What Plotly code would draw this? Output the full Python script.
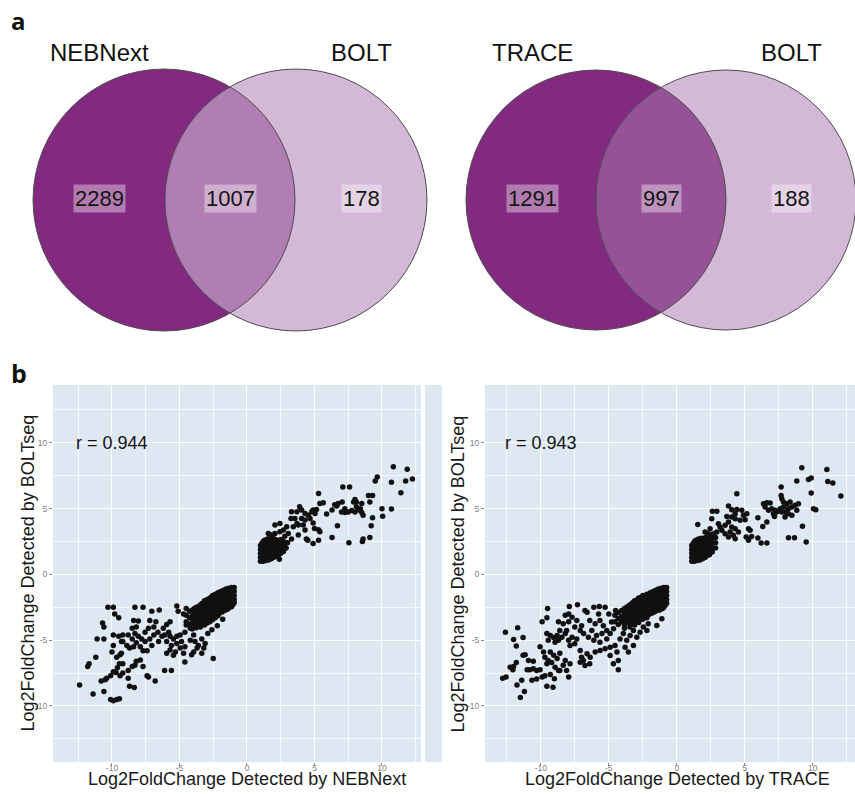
import numpy as np
import plotly.graph_objects as go

# ---------------- data ----------------
venn_left_names = ["NEBNext", "BOLT"]
venn_left_counts = [2289, 1007, 178]
venn_right_names = ["TRACE", "BOLT"]
venn_right_counts = [1291, 997, 188]

r_left = "r = 0.944"
r_right = "r = 0.943"

x_title_left = "Log2FoldChange Detected by NEBNext"
x_title_right = "Log2FoldChange Detected by TRACE"
y_title = "Log2FoldChange Detected by BOLTseq"

tick_vals = [-10, -5, 0, 5, 10]

# NEBNext vs BOLT : down-regulated, sparse part
neb_down_sparse = [
    (-12.4, -8.4), (-11.4, -9.1), (-11.8, -7.0), (-11.7, -6.8), (-11.1, -4.9), (-11.2, -6.3),
    (-10.7, -3.7), (-10.6, -4.0), (-10.6, -4.9), (-10.3, -2.5), (-9.9, -2.5), (-9.8, -3.0),
    (-9.5, -3.3), (-10.6, -8.9), (-10.8, -8.1), (-10.5, -8.0), (-10.4, -7.9), (-10.1, -7.7),
    (-9.9, -7.4), (-10.1, -9.5), (-9.9, -9.6), (-9.65, -9.5), (-9.45, -9.45),
    (-10.0, -5.9), (-9.9, -5.4), (-9.65, -6.3), (-9.4, -6.1), (-9.3, -6.0), (-9.45, -6.8),
    (-9.6, -7.1), (-9.2, -6.8), (-9.7, -7.45), (-9.4, -7.7), (-9.2, -7.5),
    (-9.9, -4.6), (-9.5, -4.7), (-9.2, -4.6), (-9.3, -5.1),
    (-8.8, -7.9), (-8.7, -8.5), (-8.35, -8.6),
    (-8.8, -7.3), (-8.5, -7.0), (-8.3, -6.9), (-8.2, -6.6), (-7.9, -6.5), (-7.7, -7.0),
    (-7.4, -7.7), (-7.3, -7.8), (-6.8, -8.1),
    (-9.2, -5.1), (-8.9, -5.4), (-8.7, -5.6), (-8.4, -5.5), (-8.2, -5.2), (-8.5, -4.9),
    (-8.8, -4.6), (-8.3, -4.5), (-8.05, -4.7), (-7.8, -4.9), (-7.55, -5.1), (-7.9, -5.5),
    (-7.7, -5.8), (-7.4, -5.8), (-7.05, -5.4), (-7.2, -4.9), (-6.9, -4.6),
    (-8.3, -2.5), (-7.7, -2.5), (-8.4, -3.5), (-8.05, -3.55), (-8.2, -4.0), (-8.5, -4.1),
    (-7.05, -2.8), (-6.5, -2.7),
    (-7.2, -3.5), (-6.75, -3.6), (-6.9, -4.0), (-7.3, -4.1), (-7.55, -4.4), (-6.6, -4.4),
    (-6.2, -4.1), (-5.95, -3.8), (-5.7, -3.6), (-5.8, -4.4), (-6.3, -4.7), (-6.55, -5.1),
    (-6.1, -4.6), (-5.7, -4.7), (-5.45, -4.9), (-5.2, -4.7), (-4.95, -4.6), (-5.95, -5.1),
    (-5.6, -5.4), (-5.2, -5.25), (-4.85, -5.1), (-5.7, -5.75), (-5.3, -5.9), (-4.95, -5.6),
    (-4.6, -5.5), (-5.95, -6.0), (-5.45, -6.15), (-4.7, -6.0),
    (-6.1, -7.3), (-5.6, -7.3), (-4.6, -6.65), (-5.2, -2.4), (-5.1, -2.8), (-4.1, -6.1),
    (-4.5, -3.85), (-4.6, -4.4), (-4.2, -4.1), (-3.95, -4.6), (-4.2, -5.0), (-3.85, -5.1),
    (-3.7, -5.6), (-3.95, -5.9), (-3.6, -5.4), (-3.35, -4.9), (-3.2, -5.6), (-3.1, -5.25),
    (-3.35, -6.0), (-2.5, -6.4), (-2.9, -4.5), (-2.6, -4.2), (-2.2, -3.9), (-1.8, -3.4),
]

# NEBNext vs BOLT : down-regulated, dense core  (x, list of y)
neb_down_core = [
    (-0.95, [-1.0, -1.3, -1.6, -1.9, -2.15]),
    (-1.05, [-1.15, -1.45, -1.75, -2.05, -2.3]),
    (-1.15, [-1.0, -1.3, -1.6, -1.9, -2.2, -2.45]),
    (-1.25, [-1.15, -1.45, -1.75, -2.05, -2.35]),
    (-1.35, [-1.05, -1.35, -1.65, -1.95, -2.25, -2.55]),
    (-1.45, [-1.2, -1.5, -1.8, -2.1, -2.4, -2.65]),
    (-1.55, [-1.1, -1.4, -1.7, -2.0, -2.3, -2.6]),
    (-1.65, [-1.25, -1.55, -1.85, -2.15, -2.45, -2.75]),
    (-1.75, [-1.2, -1.5, -1.8, -2.1, -2.4, -2.7]),
    (-1.85, [-1.35, -1.65, -1.95, -2.25, -2.55, -2.85]),
    (-1.95, [-1.3, -1.6, -1.9, -2.2, -2.5, -2.8]),
    (-2.05, [-1.45, -1.75, -2.05, -2.35, -2.65, -2.95]),
    (-2.15, [-1.4, -1.7, -2.0, -2.3, -2.6, -2.9, -3.15]),
    (-2.25, [-1.55, -1.85, -2.15, -2.45, -2.75, -3.05]),
    (-2.35, [-1.5, -1.8, -2.1, -2.4, -2.7, -3.0, -3.3]),
    (-2.45, [-1.65, -1.95, -2.25, -2.55, -2.85, -3.15]),
    (-2.55, [-1.6, -1.9, -2.2, -2.5, -2.8, -3.1, -3.45]),
    (-2.65, [-1.75, -2.05, -2.35, -2.65, -2.95, -3.3]),
    (-2.75, [-1.8, -2.1, -2.4, -2.7, -3.0, -3.35, -3.6]),
    (-2.85, [-1.95, -2.25, -2.55, -2.85, -3.15, -3.5]),
    (-2.95, [-1.9, -2.2, -2.5, -2.8, -3.1, -3.4, -3.7]),
    (-3.05, [-2.05, -2.35, -2.65, -2.95, -3.25, -3.55]),
    (-3.15, [-2.0, -2.3, -2.6, -2.9, -3.2, -3.5, -3.85]),
    (-3.3, [-2.2, -2.5, -2.8, -3.1, -3.4, -3.7]),
    (-3.45, [-2.3, -2.65, -3.0, -3.35, -3.7, -4.0]),
    (-3.6, [-2.45, -2.8, -3.15, -3.5, -3.85]),
    (-3.75, [-2.5, -2.9, -3.3, -3.7, -4.05]),
    (-3.9, [-2.6, -3.0, -3.4, -3.8]),
    (-4.05, [-2.7, -3.15, -3.6, -4.15]),
    (-4.25, [-2.8, -3.3, -3.8]),
    (-4.5, [-2.6, -3.1, -3.6]),
    (-4.7, [-3.0]),
]

# NEBNext vs BOLT : up-regulated, sparse part
neb_up_sparse = [
    (10.84, 8.18), (11.87, 8.0), (12.25, 7.25), (11.75, 7.1), (10.7, 7.0), (11.4, 6.2),
    (9.65, 7.4), (9.5, 7.1), (7.1, 6.65), (7.6, 6.65), (5.3, 6.15), (9.0, 6.0), (9.3, 6.0),
    (9.1, 5.5), (8.0, 5.7), (8.1, 5.5), (7.9, 5.5), (8.5, 5.4), (10.7, 4.97), (10.0, 5.0),
    (10.05, 4.43), (9.3, 4.3), (9.2, 3.7), (9.1, 2.8), (8.6, 2.7), (8.55, 2.5), (7.55, 2.4),
    (6.3, 2.8), (6.7, 3.7), (4.9, 2.35), (5.3, 2.6), (4.5, 2.6), (4.4, 2.7), (5.4, 3.25),
    (5.3, 3.4), (5.0, 3.5),
    (5.9, 4.6), (6.3, 4.9), (6.5, 5.3), (6.75, 5.4), (7.05, 5.5), (7.25, 5.0), (7.5, 4.75),
    (7.75, 4.85), (8.0, 4.75), (8.25, 4.9), (8.5, 4.7), (8.6, 4.5), (7.25, 4.7), (6.65, 5.2),
    (7.0, 4.75), (8.1, 5.15), (8.4, 5.0),
    (3.3, 4.76), (3.7, 4.76), (3.9, 5.15), (4.05, 4.9), (4.3, 4.64), (4.55, 4.5), (4.8, 4.76),
    (4.9, 4.9), (5.15, 4.94), (5.4, 5.4), (5.65, 5.45), (5.04, 4.64), (4.67, 4.26), (4.9, 3.9),
    (4.3, 4.13), (4.05, 4.26), (3.55, 4.26), (3.26, 4.26), (3.8, 3.75), (4.17, 3.75),
    (3.7, 3.88), (3.43, 3.62), (4.3, 3.37), (3.8, 3.0), (3.06, 3.12), (2.94, 3.62), (2.7, 3.37),
    (2.44, 3.24), (2.07, 3.75), (2.44, 3.88), (2.07, 3.12), (1.83, 3.0), (1.58, 3.12),
    (2.4, 1.16), (3.0, 2.4), (3.3, 2.7), (2.8, 2.9),
]

# NEBNext vs BOLT : up-regulated, dense core  (x, list of y)
neb_up_core = [
    (1.0, [1.0, 1.3, 1.6, 1.9, 2.2]),
    (1.1, [1.15, 1.45, 1.75, 2.05, 2.35]),
    (1.2, [1.0, 1.3, 1.6, 1.9, 2.2, 2.5]),
    (1.3, [1.1, 1.4, 1.7, 2.0, 2.3, 2.6]),
    (1.4, [1.05, 1.35, 1.65, 1.95, 2.25, 2.55]),
    (1.5, [1.2, 1.5, 1.8, 2.1, 2.4, 2.7]),
    (1.6, [1.1, 1.4, 1.7, 2.0, 2.3, 2.6]),
    (1.7, [1.25, 1.55, 1.85, 2.15, 2.45, 2.75]),
    (1.8, [1.2, 1.5, 1.8, 2.1, 2.4, 2.7]),
    (1.9, [1.35, 1.65, 1.95, 2.25, 2.55, 2.85]),
    (2.0, [1.3, 1.6, 1.9, 2.2, 2.5]),
    (2.1, [1.45, 1.75, 2.05, 2.35, 2.65]),
    (2.2, [1.4, 1.7, 2.0, 2.3, 2.6]),
    (2.35, [1.5, 1.85, 2.2, 2.55]),
    (2.5, [1.6, 1.95, 2.3, 2.65]),
    (2.7, [1.75, 2.1, 2.5]),
    (2.9, [2.0, 2.4]),
]

# TRACE vs BOLT : down-regulated, sparse part
trace_down_sparse = [
    (-12.6, -4.4), (-12.8, -7.9), (-12.55, -7.8), (-11.7, -4.05), (-12.0, -4.95), (-11.3, -4.8),
    (-11.8, -5.45), (-12.25, -7.05), (-12.0, -7.0), (-12.05, -7.25), (-11.8, -6.7), (-11.3, -6.15),
    (-11.15, -6.1), (-11.75, -8.4), (-11.4, -8.05), (-11.2, -8.9), (-11.5, -9.35), (-11.0, -7.25),
    (-10.8, -7.25), (-10.55, -7.17), (-10.3, -7.3), (-10.05, -7.25), (-10.9, -6.55), (-10.55, -6.6),
    (-10.65, -8.05), (-10.3, -7.95), (-9.9, -7.8), (-9.7, -7.7), (-9.55, -8.5), (-9.1, -8.57),
    (-9.0, -7.93), (-9.3, -7.6), (-8.6, -7.3), (-8.1, -7.3), (-7.95, -7.8), (-7.85, -6.8),
    (-10.05, -5.5), (-9.8, -5.9), (-9.7, -6.3), (-9.45, -6.55), (-9.2, -6.7), (-9.55, -6.8),
    (-9.3, -5.9), (-9.05, -6.15), (-8.8, -6.4), (-8.6, -6.0), (-8.2, -6.55), (-8.35, -6.9),
    (-8.95, -7.05), (-8.7, -7.3),
    (-9.5, -2.6), (-9.55, -3.3), (-9.9, -3.6),
    (-9.55, -4.5), (-9.3, -4.64), (-9.05, -4.8), (-9.45, -5.0), (-8.95, -5.15), (-8.7, -5.0),
    (-8.8, -4.64), (-8.45, -4.77), (-8.2, -4.5), (-8.6, -4.26), (-8.1, -4.26), (-7.95, -5.0),
    (-7.7, -4.77), (-7.85, -5.4), (-7.5, -5.27), (-7.35, -4.9),
    (-8.7, -3.6), (-8.35, -3.75), (-7.95, -3.6), (-7.95, -3.0), (-8.2, -3.1), (-7.7, -3.25),
    (-7.35, -3.5), (-7.5, -4.0), (-7.1, -4.26), (-6.85, -4.5), (-7.0, -3.9),
    (-7.9, -2.43), (-7.3, -2.3),
    (-6.75, -2.74), (-6.6, -2.87), (-6.1, -2.5), (-5.7, -2.43), (-5.27, -2.5), (-5.75, -3.0),
    (-6.4, -3.5), (-6.0, -3.75), (-5.65, -3.5), (-5.4, -3.9), (-5.15, -4.26), (-5.5, -4.5),
    (-5.9, -4.64), (-6.25, -4.26), (-6.5, -4.77), (-6.1, -5.0), (-5.65, -5.15), (-5.15, -4.9),
    (-4.9, -4.5), (-4.65, -4.13), (-4.8, -3.62), (-5.0, -3.0), (-4.5, -2.74),
    (-7.1, -5.78), (-7.0, -6.3), (-6.87, -6.54), (-6.6, -6.03), (-7.1, -6.67), (-6.75, -6.92),
    (-6.4, -6.8), (-6.37, -6.29), (-6.0, -5.9), (-5.64, -5.78), (-5.27, -5.65), (-4.9, -5.53),
    (-4.54, -5.4), (-4.4, -5.9), (-4.9, -6.16), (-4.3, -6.54), (-4.66, -6.8), (-4.3, -7.25),
    (-4.17, -4.9), (-3.93, -4.5), (-3.68, -5.0), (-3.43, -4.64), (-3.19, -4.26), (-2.94, -4.77),
    (-2.7, -4.39), (-2.46, -4.0), (-2.2, -4.26), (-2.1, -3.75), (-1.47, -3.88), (-1.1, -3.37),
    (-3.19, -5.4), (-3.8, -5.53), (-3.56, -5.9),
]

# TRACE vs BOLT : down-regulated, dense core  (x, list of y)
trace_down_core = [
    (-0.75, [-1.0, -1.3, -1.6, -1.9, -2.2]),
    (-0.85, [-1.15, -1.45, -1.75, -2.05, -2.35]),
    (-0.95, [-1.0, -1.3, -1.6, -1.9, -2.2, -2.5]),
    (-1.05, [-1.15, -1.45, -1.75, -2.05, -2.35, -2.6]),
    (-1.15, [-1.05, -1.35, -1.65, -1.95, -2.25, -2.55]),
    (-1.25, [-1.2, -1.5, -1.8, -2.1, -2.4, -2.7]),
    (-1.35, [-1.1, -1.4, -1.7, -2.0, -2.3, -2.6]),
    (-1.45, [-1.25, -1.55, -1.85, -2.15, -2.45, -2.75]),
    (-1.55, [-1.2, -1.5, -1.8, -2.1, -2.4, -2.7]),
    (-1.65, [-1.35, -1.65, -1.95, -2.25, -2.55, -2.85]),
    (-1.75, [-1.3, -1.6, -1.9, -2.2, -2.5, -2.8]),
    (-1.85, [-1.45, -1.75, -2.05, -2.35, -2.65, -2.95]),
    (-1.95, [-1.4, -1.7, -2.0, -2.3, -2.6, -2.9]),
    (-2.05, [-1.55, -1.85, -2.15, -2.45, -2.75, -3.05]),
    (-2.2, [-1.5, -1.8, -2.1, -2.4, -2.7, -3.0, -3.3]),
    (-2.35, [-1.65, -1.95, -2.25, -2.55, -2.85, -3.15]),
    (-2.5, [-1.6, -1.9, -2.2, -2.5, -2.8, -3.1, -3.4]),
    (-2.65, [-1.75, -2.05, -2.35, -2.65, -2.95, -3.3]),
    (-2.8, [-1.8, -2.1, -2.4, -2.7, -3.0, -3.35, -3.65]),
    (-2.95, [-1.95, -2.25, -2.55, -2.85, -3.15, -3.5]),
    (-3.1, [-2.0, -2.3, -2.6, -2.9, -3.2, -3.55, -3.85]),
    (-3.25, [-2.15, -2.45, -2.8, -3.15, -3.5]),
    (-3.45, [-2.3, -2.65, -3.0, -3.35, -3.7, -4.0]),
    (-3.65, [-2.45, -2.85, -3.25, -3.65]),
    (-3.85, [-2.6, -3.0, -3.4, -3.8, -4.1]),
    (-4.05, [-2.75, -3.2, -3.6]),
    (-4.3, [-2.9, -3.35, -3.8]),
    (-4.55, [-3.1, -3.6]),
]

# TRACE vs BOLT : up-regulated, sparse part
trace_up_sparse = [
    (9.19, 8.11), (11.03, 7.98), (11.1, 7.07), (11.47, 6.95), (12.06, 5.96), (9.88, 7.33),
    (9.68, 7.22), (8.82, 7.1), (9.88, 6.19), (7.67, 6.64), (4.41, 6.13), (7.67, 6.0),
    (7.72, 5.75), (7.84, 5.5),
    (6.37, 5.37), (6.62, 5.45), (6.86, 5.42), (6.49, 5.12), (6.74, 4.87), (6.98, 5.0),
    (7.23, 4.87), (7.1, 4.61), (7.35, 4.74), (7.6, 5.0), (7.84, 5.12), (8.09, 5.37),
    (8.33, 5.5), (8.2, 5.0), (8.46, 5.12), (8.7, 5.25), (8.94, 5.37), (8.82, 4.87),
    (7.96, 4.74), (8.2, 4.61), (8.46, 4.49), (7.96, 4.36), (7.72, 4.74),
    (10.05, 5.0), (10.22, 4.92), (9.24, 3.67), (8.21, 2.79), (8.65, 2.79), (9.51, 2.46),
    (7.18, 4.41), (6.62, 3.98), (6.32, 3.65), (5.96, 4.31), (5.96, 2.76), (6.2, 2.38),
    (6.62, 2.38), (5.1, 2.84), (5.27, 2.59), (5.5, 2.89), (5.27, 3.47), (5.39, 3.35),
    (2.62, 4.81), (2.94, 4.81), (2.57, 4.23), (3.06, 3.85), (3.18, 3.6), (1.54, 3.8),
    (3.8, 5.2), (4.04, 4.92), (4.41, 4.94), (4.29, 4.61), (4.78, 4.87), (4.9, 4.49),
    (5.15, 4.61), (5.02, 4.16), (4.65, 4.11), (4.29, 4.24), (4.04, 4.36), (3.68, 4.41),
    (3.8, 3.98), (3.55, 3.73), (4.04, 3.6), (4.29, 3.47), (4.53, 3.22), (3.92, 3.22),
    (3.55, 3.1), (3.8, 2.84), (4.16, 2.97), (4.29, 2.71), (3.31, 3.35), (2.94, 3.22),
    (2.69, 3.1), (2.32, 3.1), (2.08, 3.22), (2.45, 3.47),
]

# TRACE vs BOLT : up-regulated, dense core  (x, list of y)
trace_up_core = [
    (1.1, [1.0, 1.3, 1.6, 1.9, 2.2]),
    (1.2, [1.15, 1.45, 1.75, 2.05, 2.35]),
    (1.3, [1.0, 1.3, 1.6, 1.9, 2.2, 2.5]),
    (1.4, [1.1, 1.4, 1.7, 2.0, 2.3, 2.6]),
    (1.5, [1.05, 1.35, 1.65, 1.95, 2.25, 2.55]),
    (1.6, [1.2, 1.5, 1.8, 2.1, 2.4, 2.7]),
    (1.7, [1.1, 1.4, 1.7, 2.0, 2.3, 2.6]),
    (1.8, [1.25, 1.55, 1.85, 2.15, 2.45, 2.75]),
    (1.9, [1.2, 1.5, 1.8, 2.1, 2.4, 2.7]),
    (2.0, [1.35, 1.65, 1.95, 2.25, 2.55]),
    (2.1, [1.3, 1.6, 1.9, 2.2, 2.5, 2.8]),
    (2.25, [1.45, 1.8, 2.15, 2.5]),
    (2.4, [1.5, 1.85, 2.2, 2.55, 2.9]),
    (2.6, [1.7, 2.05, 2.4, 2.75]),
    (2.85, [2.0, 2.4, 2.8]),
]

# ---------------- figure ----------------
W, H = 855, 794


def px(x):
    return x / W


def py(y):
    return 1 - y / H


FONT = "Liberation Sans, Arial, sans-serif"
PANEL_BG = "#DDE8F2"
DARK = "#822A7F"
LIGHT = "#D4B8D7"

fig = go.Figure()


def expand_core(core):
    return [(x, y) for x, ys in core for y in ys]


def add_points(pts, xa, ya):
    xs = [p[0] for p in pts]
    ys = [p[1] for p in pts]
    fig.add_trace(go.Scatter(x=xs, y=ys, mode="markers", xaxis=xa, yaxis=ya,
                             marker=dict(color="#111111", size=5.5, line=dict(width=0)),
                             showlegend=False, hoverinfo="x+y"))


add_points(neb_down_sparse + expand_core(neb_down_core) + neb_up_sparse + expand_core(neb_up_core),
           "x", "y")
add_points(trace_down_sparse + expand_core(trace_down_core) + trace_up_sparse
           + expand_core(trace_up_core), "x2", "y2")

shapes = []
annotations = []


def circle(cx, cy, r, fill, line_color="rgba(0,0,0,0)", lw=0):
    return dict(type="circle", xref="paper", yref="paper",
                x0=px(cx - r), x1=px(cx + r), y0=py(cy + r), y1=py(cy - r),
                fillcolor=fill, line=dict(color=line_color, width=lw), layer="above")


def lens_path(c1, c2, cy, r):
    d = c2 - c1
    half = np.arccos((d / 2) / r)
    t1 = np.linspace(-half, half, 80)
    t2 = np.linspace(np.pi - half, np.pi + half, 80)
    pts = [(c1 + r * np.cos(t), cy + r * np.sin(t)) for t in t1]
    pts += [(c2 + r * np.cos(t), cy + r * np.sin(t)) for t in t2]
    return "M " + " L ".join(f"{px(x):.5f},{py(y):.5f}" for x, y in pts) + " Z"


def venn(c1, c2, cy, r, lens_color, names, counts):
    shapes.append(circle(c1, cy, r, DARK))
    shapes.append(circle(c2, cy, r, LIGHT))
    shapes.append(dict(type="path", xref="paper", yref="paper", path=lens_path(c1, c2, cy, r),
                       fillcolor=lens_color, line=dict(width=0), layer="above"))
    shapes.append(circle(c1, cy, r, "rgba(0,0,0,0)", "#4d4d4d", 1))
    shapes.append(circle(c2, cy, r, "rgba(0,0,0,0)", "#4d4d4d", 1))
    for cx, name in zip([c1 - r * 0.49, c2 + r * 0.5], names):
        annotations.append(dict(x=px(cx), y=py(53), xref="paper", yref="paper", text=name,
                                showarrow=False, font=dict(family=FONT, size=24, color="#111"),
                                xanchor="center", yanchor="middle"))
    mid = (c1 + c2) / 2
    for cx, cnt in zip([c1 - r * 0.49, mid, c2 + r * 0.5], counts):
        annotations.append(dict(x=px(cx), y=py(199), xref="paper", yref="paper", text=str(cnt),
                                showarrow=False, font=dict(family=FONT, size=22, color="#151515"),
                                bgcolor="rgba(255,255,255,0.38)", borderpad=1,
                                xanchor="center", yanchor="middle"))


venn(164, 296, 200, 131, "#B07EB2", venn_left_names, venn_left_counts)
venn(596, 726, 200, 130, "#965296", venn_right_names, venn_right_counts)

# panel letters
annotations.append(dict(x=px(18), y=py(20), xref="paper", yref="paper", text="<b>a</b>",
                        showarrow=False, font=dict(family="Open Sans, DejaVu Sans", size=24, color="#111"),
                        xanchor="center", yanchor="middle"))
annotations.append(dict(x=px(19), y=py(373), xref="paper", yref="paper", text="<b>b</b>",
                        showarrow=False, font=dict(family="Open Sans, DejaVu Sans", size=25, color="#111"),
                        xanchor="center", yanchor="middle"))

# thin leftover panel strip between the scatter plots
shapes.append(dict(type="rect", xref="paper", yref="paper", x0=px(425), x1=px(442),
                   y0=py(762), y1=py(385), fillcolor=PANEL_BG, line=dict(width=0), layer="below"))

# correlation labels
annotations.append(dict(x=-10, y=10, xref="x", yref="y", text=r_left, showarrow=False,
                        font=dict(family=FONT, size=18, color="#111")))
annotations.append(dict(x=-10, y=10, xref="x2", yref="y2", text=r_right, showarrow=False,
                        font=dict(family=FONT, size=18, color="#111")))

# axis titles
for xc, txt in [(247, x_title_left), (677, x_title_right)]:
    annotations.append(dict(x=px(xc), y=py(779), xref="paper", yref="paper", text=txt,
                            showarrow=False, font=dict(family=FONT, size=18, color="#1a1a1a"),
                            xanchor="center", yanchor="middle"))
for xc in [27, 457]:
    annotations.append(dict(x=px(xc), y=py(573.5), xref="paper", yref="paper", text=y_title,
                            textangle=-90, showarrow=False,
                            font=dict(family=FONT, size=18, color="#1a1a1a"),
                            xanchor="center", yanchor="middle"))

axis_common = dict(
    tickmode="array", tickvals=tick_vals, ticktext=[str(v) for v in tick_vals],
    showgrid=True, gridcolor="white", gridwidth=1.2, zeroline=False, showline=False,
    ticks="outside", ticklen=3, tickcolor="#8a8a8a", tickwidth=1,
    tickfont=dict(family=FONT, size=8.5, color="#7f7f7f"),
    minor=dict(tickvals=[-12.5, -7.5, -2.5, 2.5, 7.5, 12.5], showgrid=True,
               gridcolor="rgba(255,255,255,0.75)", gridwidth=0.6, ticks=""),
    fixedrange=True,
)
xaxis_extra = dict(ticklabelstandoff=-5)

fig.update_layout(
    width=W, height=H, margin=dict(l=0, r=0, t=0, b=0),
    paper_bgcolor="white", plot_bgcolor=PANEL_BG,
    xaxis=dict(domain=[px(53), px(421)], range=[-14.37, 12.89], anchor="y",
               **axis_common, **xaxis_extra),
    yaxis=dict(domain=[py(762), py(385)], range=[-14.26, 14.4], anchor="x", **axis_common),
    xaxis2=dict(domain=[px(485), 1.0], range=[-14.1, 13.1], anchor="y2",
                **axis_common, **xaxis_extra),
    yaxis2=dict(domain=[py(762), py(385)], range=[-14.26, 14.4], anchor="x2", **axis_common),
    shapes=shapes, annotations=annotations,
    font=dict(family=FONT),
)

fig.write_html("out.html", config={"displayModeBar": False},
               post_script="document.body.style.margin='0';document.body.style.overflow='hidden';")
